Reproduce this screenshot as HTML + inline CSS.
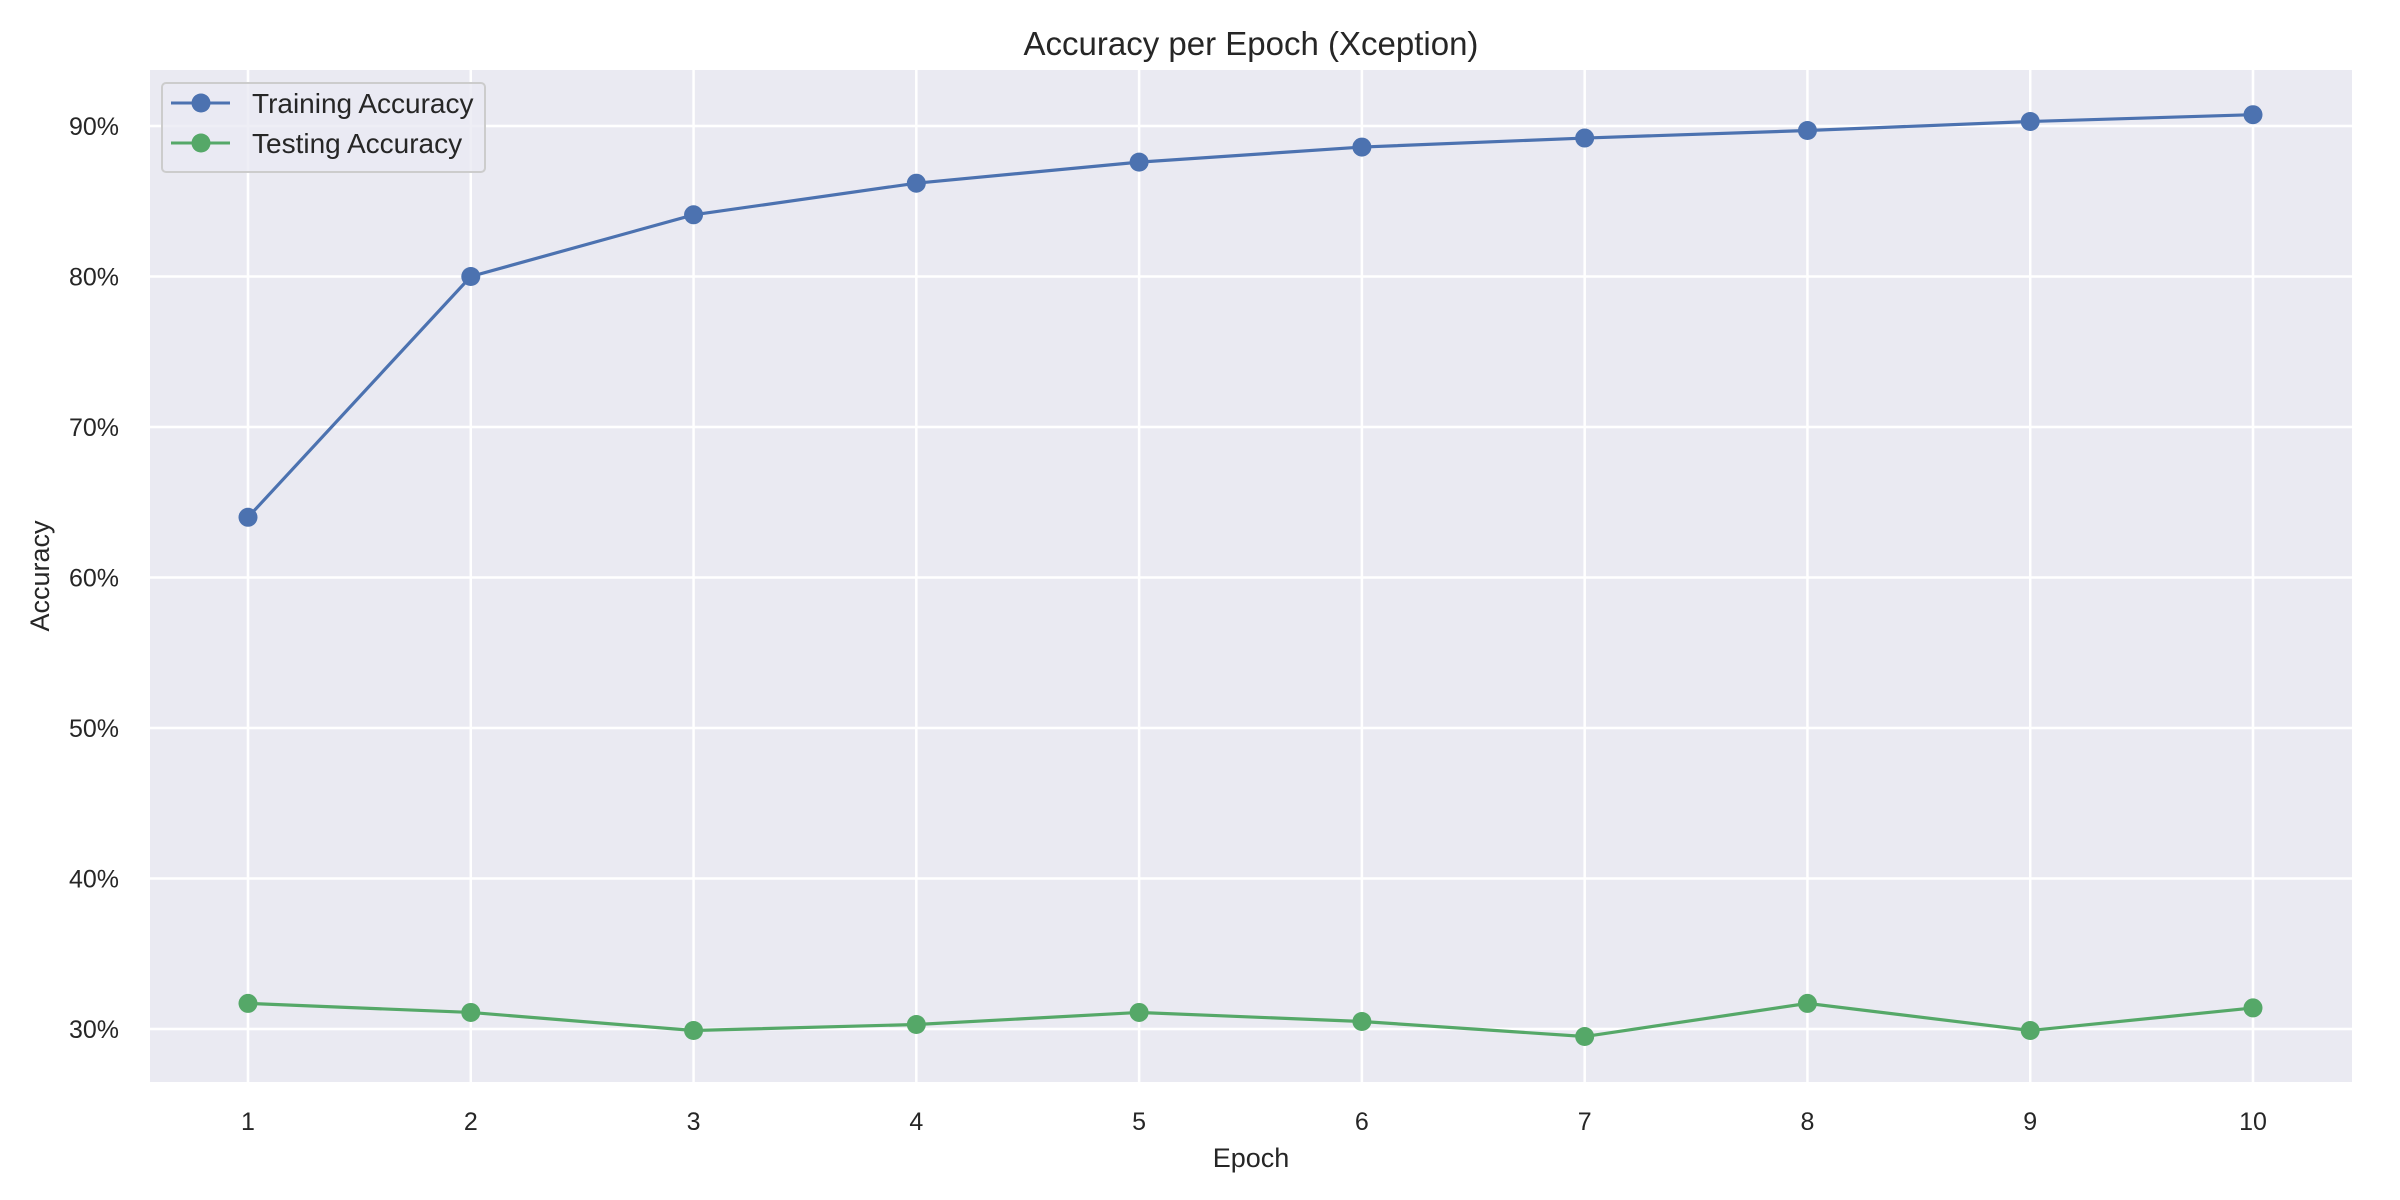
<!DOCTYPE html>
<html><head><meta charset="utf-8"><style>
html,body{margin:0;padding:0;background:#fff;}
svg{display:block;font-family:"Liberation Sans",Arial,sans-serif;}
</style></head><body>
<svg id="chart" width="2400" height="1200" viewBox="0 0 2400 1200" xmlns="http://www.w3.org/2000/svg">
<rect x="150" y="70" width="2202" height="1012" fill="#eaeaf2"/>
<g id="grid"></g>
<g id="series"></g>
<g id="ticks"></g>
<text x="1251" y="55" font-size="33" text-anchor="middle" fill="#262626">Accuracy per Epoch (Xception)</text>
<text x="1251" y="1167" font-size="27" text-anchor="middle" fill="#262626">Epoch</text>
<text x="0" y="0" transform="translate(49,576) rotate(-90)" font-size="27" text-anchor="middle" fill="#262626">Accuracy</text>
<g>
<rect x="162" y="83" width="323" height="89" rx="4" fill="#eaeaf2" fill-opacity="0.8" stroke="#cccccc" stroke-width="2"/>
<line x1="171" y1="103" x2="230" y2="103" stroke="#4c72b0" stroke-width="3"/>
<circle cx="201" cy="103" r="9.5" fill="#4c72b0"/>
<text x="252" y="113" font-size="28" fill="#262626">Training Accuracy</text>
<line x1="171" y1="143" x2="230" y2="143" stroke="#55a868" stroke-width="3"/>
<circle cx="201" cy="143" r="9.5" fill="#55a868"/>
<text x="252" y="153" font-size="28" fill="#262626">Testing Accuracy</text>
</g>
</svg>
<script>
const epochs = [1,2,3,4,5,6,7,8,9,10];
const trainingAcc = [64.0,80.0,84.1,86.2,87.6,88.6,89.2,89.7,90.3,90.75];
const testingAcc = [31.7,31.1,29.9,30.3,31.1,30.5,29.5,31.7,29.9,31.4];
const yTicks = [30,40,50,60,70,80,90];
const yTickLabels = ["30%","40%","50%","60%","70%","80%","90%"];

const NS = "http://www.w3.org/2000/svg";
function xs(e){ return 248 + (e-1)*(2253-248)/9; }
function ys(v){ return 1029 - (v-30)*(1029-126)/60; }
function mk(tag, attrs, parent){
  const el = document.createElementNS(NS, tag);
  for (const k in attrs) el.setAttribute(k, attrs[k]);
  parent.appendChild(el);
  return el;
}
const grid = document.getElementById('grid');
const ticks = document.getElementById('ticks');
const series = document.getElementById('series');
yTicks.forEach((t,i)=>{
  const l = mk('line',{x1:150,x2:2352,y1:ys(t),y2:ys(t),stroke:'#fff','stroke-width':2.5},grid);
  
  
  const tx = mk('text',{x:119,y:ys(t)+9,'font-size':25,'text-anchor':'end',fill:'#262626'},ticks);
  tx.textContent = yTickLabels[i];
  
  
});
epochs.forEach(e=>{
  const l = mk('line',{x1:xs(e),x2:xs(e),y1:70,y2:1082,stroke:'#fff','stroke-width':2.5},grid);
  
  
  const tx = mk('text',{x:xs(e),y:1130,'font-size':25,'text-anchor':'middle',fill:'#262626'},ticks);
  tx.textContent = String(e);
  
  
});
function drawSeries(vals, color, name){
  const pts = vals.map((v,i)=>xs(epochs[i])+','+ys(v)).join(' ');
  const pl = mk('polyline',{points:pts,fill:'none',stroke:color,'stroke-width':3.2},series);
  
  
  vals.forEach((v,i)=>{
    const c = mk('circle',{cx:xs(epochs[i]),cy:ys(v),r:9.5,fill:color},series);
    
    
  });
}
drawSeries(trainingAcc,'#4c72b0','training-accuracy');
drawSeries(testingAcc,'#55a868','testing-accuracy');
</script>
</body></html>
